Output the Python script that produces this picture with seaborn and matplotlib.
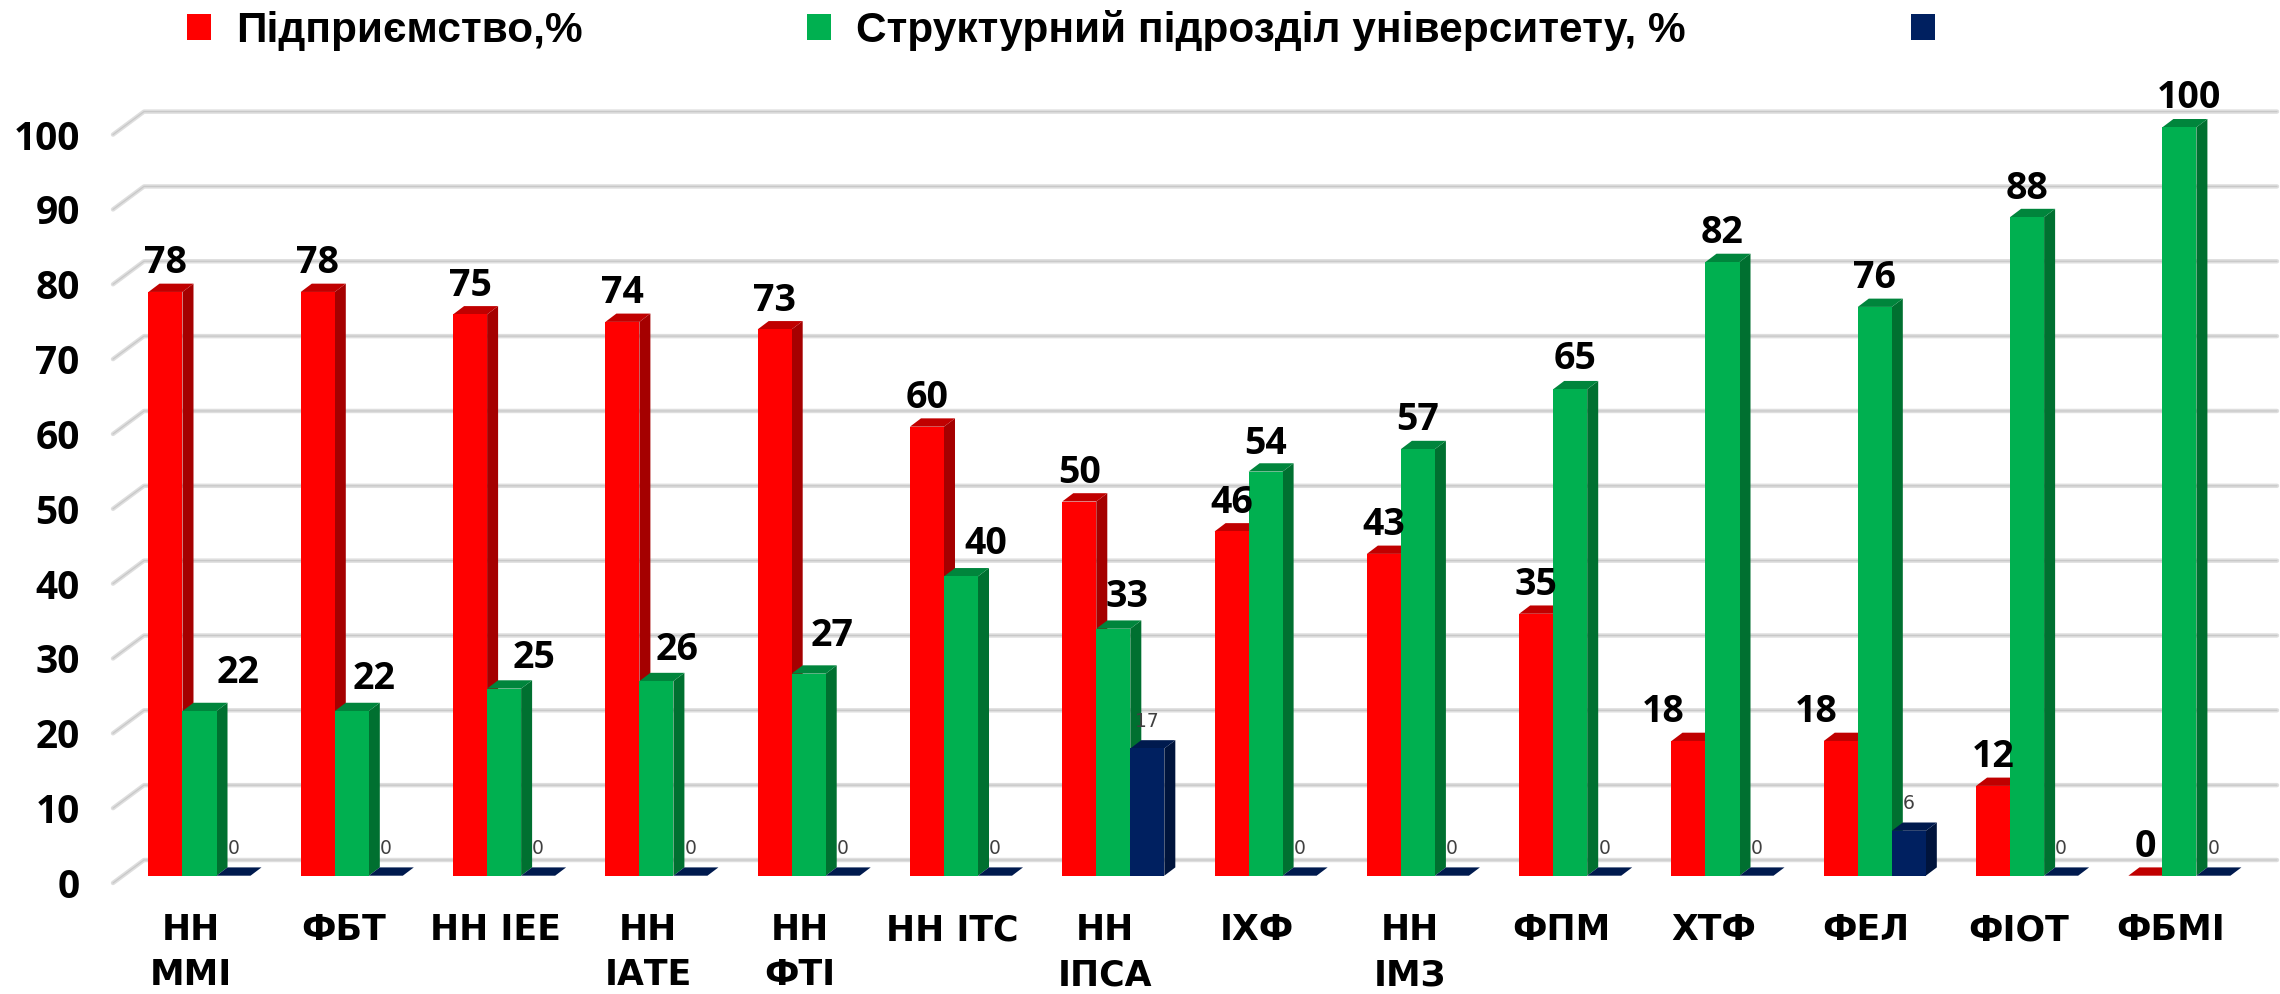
import matplotlib
matplotlib.use('Agg')
import matplotlib.pyplot as plt
import matplotlib.transforms as mtrans
from matplotlib.patches import Polygon
import pandas as pd
import seaborn as sns

# values
faculties = ['НН\nММІ', 'ФБТ', 'НН ІЕЕ', 'НН\nІАТЕ', 'НН\nФТІ', 'НН ІТС', 'НН\nІПСА',
             'ІХФ', 'НН\nІМЗ', 'ФПМ', 'ХТФ', 'ФЕЛ', 'ФІОТ', 'ФБМІ']
enterprise = [78, 78, 75, 74, 73, 60, 50, 46, 43, 35, 18, 18, 12, 0]
university = [22, 22, 25, 26, 27, 40, 33, 54, 57, 65, 82, 76, 88, 100]
other = [0, 0, 0, 0, 0, 0, 17, 0, 0, 0, 0, 6, 0, 0]
series_names = ['Підприємство,%', 'Структурний підрозділ університету, %', ' ']
y_ticks = [0, 10, 20, 30, 40, 50, 60, 70, 80, 90, 100]

# hand placed label shifts, in pixels
red_shift_x = [0, 0, 0, 0, 0, 0, 0, 0, 0, 0, -25, -25, 0, 0]
green_shift_x = [39, 22, 30, 21, 23, 25, 14, 0, 0, 5, 0, 0, 0, 10]
green_shift_y = [38, 32, 31, 31, 38, 32, 32, 28, 29, 30, 29, 29, 28, 29]

front = ['#FF0000', '#00B050', '#002060']
side = ['#A50000', '#007030', '#00143C']
top = ['#C00000', '#00853C', '#001A4E']

W, H = 2280, 994
X_STEP, Y_STEP = 152.3, 7.484
AX_LEFT, AX_RIGHT, Y0, Y100 = 113, 2277, 875.7, 127.3
FIRST_CENTER = 199.5

df = pd.DataFrame({'faculty': faculties * 3,
                   'series': sum([[n] * len(faculties) for n in series_names], []),
                   'value': enterprise + university + other})

sns.set_theme(style='white')
fig = plt.figure(figsize=(W / 100, H / 100), dpi=100)
ax = fig.add_axes([AX_LEFT / W, 1 - Y0 / H, (AX_RIGHT - AX_LEFT) / W, (Y0 - Y100) / H])

sns.barplot(data=df, x='faculty', y='value', hue='series', hue_order=series_names,
            order=faculties, palette=front, saturation=1, width=0.67, gap=0,
            linewidth=0, errorbar=None, ax=ax)
ax.set_xlim((AX_LEFT - FIRST_CENTER) / X_STEP, (AX_RIGHT - FIRST_CENTER) / X_STEP)
ax.set_ylim(0, 100)
ax.set_xlabel('')
ax.set_ylabel('')
sns.despine(ax=ax, left=True, bottom=True)


def px_x(p):
    return p / X_STEP


def px_y(p):
    return p / Y_STEP


# floor and back wall lines
x_left, x_right = ax.get_xlim()
wall_dx, wall_up, front_down = px_x(31), px_y(15.7), px_y(7.3)
for v in y_ticks:
    xs = [x_left, x_left + wall_dx, x_right]
    ys = [v - front_down, v + wall_up, v + wall_up]
    ax.plot(xs, ys, color='#DEDEDE', lw=3.2, zorder=1, clip_on=False, solid_joinstyle='round')
    ax.plot(xs, ys, color='#C8C8C8', lw=0.9, zorder=1.1, clip_on=False)

# depth faces for the bars
dx, dy = px_x(11), px_y(8.3)
for j, container in enumerate(ax.containers):
    for bar in container:
        x0, w, h = bar.get_x(), bar.get_width(), bar.get_height()
        bar.set_zorder(3 + 2 * j)
        x1 = x0 + w
        ax.add_patch(Polygon([(x1, 0), (x1 + dx, dy), (x1 + dx, h + dy), (x1, h)],
                             facecolor=side[j], lw=0, zorder=2 + 2 * j, clip_on=False))
        ax.add_patch(Polygon([(x0, h), (x1, h), (x1 + dx, h + dy), (x0 + dx, h + dy)],
                             facecolor=top[j], lw=0, zorder=2.5 + 2 * j, clip_on=False))

# value labels
big = dict(family='Open Sans', fontsize=27, fontweight='bold', color='black',
           ha='center', va='center', zorder=20, annotation_clip=False)
small = dict(family='DejaVu Sans', fontsize=13.5, color='#404040',
             ha='center', va='center', zorder=20, annotation_clip=False)
for i in range(len(faculties)):
    c = ax.containers[0][i]
    ax.annotate(str(enterprise[i]), (c.get_x() + c.get_width() / 2, enterprise[i]),
                xytext=(red_shift_x[i] * 0.72, 28.5 * 0.72), textcoords='offset points', **big)
    c = ax.containers[1][i]
    ax.annotate(str(university[i]), (c.get_x() + c.get_width() / 2, university[i]),
                xytext=(green_shift_x[i] * 0.72, green_shift_y[i] * 0.72),
                textcoords='offset points', **big)
    c = ax.containers[2][i]
    ax.annotate(str(other[i]), (c.get_x() + c.get_width() / 2, other[i]),
                xytext=(0, 27 * 0.72), textcoords='offset points', **small)

# axis labels
ax.set_yticks(y_ticks)
ax.tick_params(axis='y', length=0, pad=24)
ax.tick_params(axis='x', length=0, pad=27)
down = mtrans.ScaledTranslation(0, -7.3 / 100, fig.dpi_scale_trans)
for lab in ax.get_yticklabels():
    lab.set_fontfamily('Open Sans')
    lab.set_fontsize(28)
    lab.set_fontweight('bold')
    lab.set_color('black')
    lab.set_transform(lab.get_transform() + down)
left = mtrans.ScaledTranslation(-8.5 / 100, 0, fig.dpi_scale_trans)
for lab in ax.get_xticklabels():
    lab.set_fontfamily('DejaVu Sans')
    lab.set_fontsize(25)
    lab.set_fontweight('bold')
    lab.set_color('black')
    lab.set_linespacing(1.4)
    lab.set_transform(lab.get_transform() + left)

# legend along the top
sns.move_legend(ax, 'upper left', bbox_to_anchor=(187 / W, 1 - 10 / H),
                bbox_transform=fig.transFigure, ncol=3, title=None, frameon=False,
                fontsize=30.5, handlelength=0.57, handleheight=0.57, handletextpad=0.59,
                columnspacing=5.3, borderpad=0, borderaxespad=0)
for txt in ax.get_legend().get_texts():
    txt.set_fontfamily('Liberation Sans')
    txt.set_fontweight('bold')
    txt.set_fontsize(30.5)
    txt.set_color('black')

fig.savefig('out.png', dpi=100, facecolor='white')
